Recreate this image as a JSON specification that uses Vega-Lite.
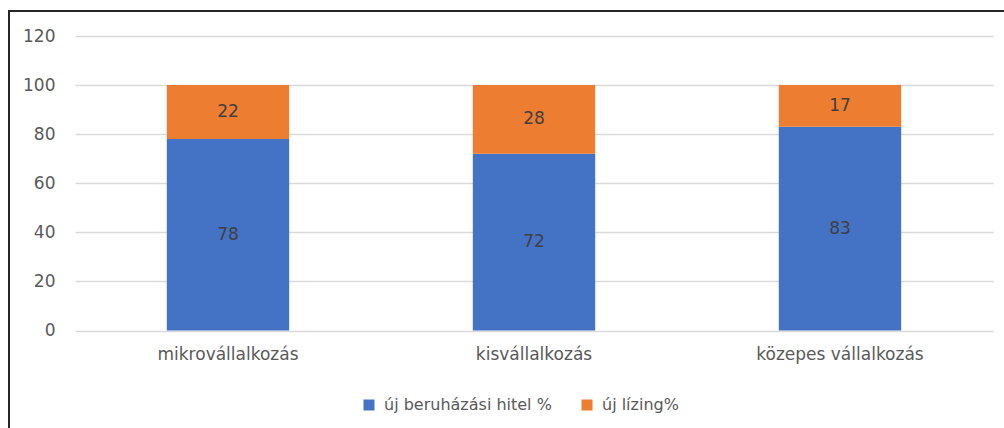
{
  "$schema": "https://vega.github.io/schema/vega-lite/v6.json",
  "width": 1000,
  "height": 425,
  "autosize": {"type": "none"},
  "padding": {"left": 9, "top": 11, "right": 0, "bottom": 0},
  "background": "white",
  "data": {
    "values": [
      {"category": "mikrovállalkozás", "series": "új beruházási hitel %", "value": 78},
      {"category": "mikrovállalkozás", "series": "új lízing%", "value": 22},
      {"category": "kisvállalkozás", "series": "új beruházási hitel %", "value": 72},
      {"category": "kisvállalkozás", "series": "új lízing%", "value": 28},
      {"category": "közepes vállalkozás", "series": "új beruházási hitel %", "value": 83},
      {"category": "közepes vállalkozás", "series": "új lízing%", "value": 17}
    ]
  },
  "transform": [
    {
      "stack": "value",
      "groupby": ["category"],
      "sort": [{"field": "series", "order": "ascending"}],
      "as": ["v0", "v1"]
    },
    {"calculate": "(datum.v0 + datum.v1) / 2", "as": "mid"}
  ],
  "encoding": {
    "x": {
      "field": "category",
      "type": "nominal",
      "sort": ["mikrovállalkozás", "kisvállalkozás", "közepes vállalkozás"],
      "scale": {"range": [66, 984], "paddingInner": 0.6, "paddingOuter": 0.3},
      "axis": {
        "title": null,
        "orient": "bottom",
        "offset": -105.5,
        "domain": false,
        "ticks": false,
        "grid": false,
        "labelAngle": 0,
        "labelPadding": 16,
        "labelFontSize": 17,
        "labelColor": "#595959"
      }
    }
  },
  "layer": [
    {
      "mark": {"type": "bar"},
      "encoding": {
        "y": {
          "field": "v1",
          "type": "quantitative",
          "scale": {"domain": [0, 120], "range": [319.5, 25], "nice": false, "zero": true},
          "axis": {
            "title": null,
            "orient": "left",
            "offset": -66,
            "values": [0, 20, 40, 60, 80, 100, 120],
            "domain": false,
            "ticks": false,
            "grid": true,
            "gridColor": "#d9d9d9",
            "gridWidth": 1.3,
            "labelPadding": 20,
            "labelFontSize": 17,
            "labelColor": "#595959"
          }
        },
        "y2": {"field": "v0"},
        "color": {
          "field": "series",
          "type": "nominal",
          "scale": {
            "domain": ["új beruházási hitel %", "új lízing%"],
            "range": ["#4472C4", "#ED7D31"]
          },
          "legend": {
            "title": null,
            "orient": "none",
            "direction": "horizontal",
            "legendX": 352,
            "legendY": 386,
            "padding": 0,
            "symbolType": "square",
            "symbolSize": 121,
            "symbolStrokeWidth": 0,
            "labelFontSize": 16,
            "labelColor": "#595959",
            "labelOffset": 7,
            "labelLimit": 400,
            "columnPadding": 27
          }
        }
      }
    },
    {
      "mark": {"type": "text", "fontSize": 17, "color": "#404040"},
      "encoding": {
        "y": {"field": "mid", "type": "quantitative"},
        "text": {"field": "value", "type": "quantitative"}
      }
    }
  ],
  "config": {
    "font": "DejaVu Sans",
    "view": {"stroke": "#262626", "strokeWidth": 2}
  }
}
